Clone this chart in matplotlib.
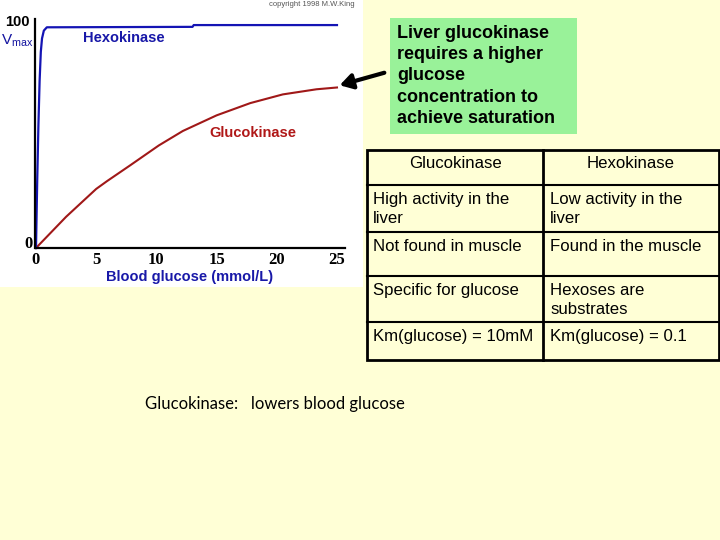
import matplotlib
matplotlib.use("Agg")
import matplotlib.pyplot as plt
from matplotlib.patches import Rectangle, FancyArrowPatch
from matplotlib.lines import Line2D

# ---- data ----
gluco_x = [0, 1.25, 2.5, 3.9, 5, 5.9, 7.8, 10.2, 12.2, 15, 17.8, 20.5, 23.3, 25]
gluco_y = [0, 7, 14, 21, 26.5, 30, 37, 46, 52.5, 59.5, 65, 68.9, 71.2, 72]
hexo_x = [0, 0.1, 0.2, 0.3, 0.4, 0.5, 0.65, 0.9, 13, 13.1, 25]
hexo_y = [0, 30, 55, 75, 88, 94, 97.5, 99, 99.2, 100, 100]
x_ticks = [0, 5, 10, 15, 20, 25]
table_header = ["Glucokinase", "Hexokinase"]
table_rows = [
    ["High activity in the\nliver", "Low activity in the\nliver"],
    ["Not found in muscle", "Found in the muscle"],
    ["Specific for glucose", "Hexoses are\nsubstrates"],
    ["Km(glucose) = 10mM", "Km(glucose) = 0.1"],
]
callout = "Liver glucokinase\nrequires a higher\nglucose\nconcentration to\nachieve saturation"
footer = "Glucokinase:   lowers blood glucose"

W, H = 720, 540
BG = "#FFFFD6"
fig = plt.figure(figsize=(7.2, 5.4), dpi=100, facecolor=BG)

def fx(x):
    return x / W

def fy(y):
    return 1 - y / H

# white chart image area
fig.patches.append(Rectangle((0, fy(287)), fx(363), 287 / H, transform=fig.transFigure,
                             facecolor="white", edgecolor="none", zorder=-5))

# axes: x 0..25.7 maps 36..345 px ; y 0..102.5 maps 248..19.5 px
left, right, bottom, top = 36, 345.4, 248, 19.5
ax = fig.add_axes([fx(left), fy(bottom), (right - left) / W, (bottom - top) / H])
ax.set_zorder(2)
ax.set_xlim(0, 25.7)
ax.set_ylim(0, 102.5)
ax.patch.set_alpha(0)
for s in ["top", "right"]:
    ax.spines[s].set_visible(False)
ax.spines["left"].set_linewidth(1.6)
ax.spines["bottom"].set_linewidth(1.6)
ax.spines["left"].set_position(("data", -0.08))

ax.plot(gluco_x, gluco_y, color="#A01818", lw=1.5, clip_on=False)
ax.plot(hexo_x, hexo_y, color="#1414B4", lw=1.6, clip_on=False)

ax.set_xticks(x_ticks)
ax.set_xticklabels([str(t) for t in x_ticks], fontsize=12, fontweight="bold",
                   family="Liberation Serif")
ax.tick_params(axis="x", length=0, pad=3)
ax.set_yticks([])

# y labels
fig.text(fx(30), fy(22), "100", fontsize=10.5, fontweight="bold", family="Liberation Sans",
         ha="right", va="center")
fig.text(fx(33), fy(244), "0", fontsize=12, fontweight="bold", family="Liberation Serif",
         ha="right", va="center")
fig.text(fx(1), fy(41), r"V$_{\mathregular{max}}$", fontsize=11, color="#1414A0",
         family="Liberation Sans", ha="left", va="center")

fig.text(fx(124), fy(38), "Hexokinase", fontsize=10.5, fontweight="bold",
         color="#1818A8", family="Liberation Sans", ha="center", va="center")
fig.text(fx(253), fy(133), "Glucokinase", fontsize=10.5, fontweight="bold",
         color="#B01818", family="Liberation Sans", ha="center", va="center")
fig.text(fx(190), fy(277), "Blood glucose (mmol/L)", fontsize=10.5, fontweight="bold",
         color="#1818A8", family="Liberation Sans", ha="center", va="center")
fig.text(fx(312), fy(5), "copyright 1998 M.W.King", fontsize=5.5, color="#555555",
         family="Liberation Sans", ha="center", va="center")

# green callout box
fig.patches.append(Rectangle((fx(390), fy(134)), fx(187), 116 / H, transform=fig.transFigure,
                             facecolor="#99F299", edgecolor="none", zorder=1))
fig.text(fx(397), fy(76), callout, fontsize=13, fontweight="bold", family="Liberation Sans",
         ha="left", va="center", linespacing=1.33, zorder=2)

# arrow
arr = FancyArrowPatch((fx(387), fy(72)), (fx(337), fy(86)), transform=fig.transFigure,
                      arrowstyle="-|>,head_length=5,head_width=3", color="black", lw=3,
                      mutation_scale=1.5, zorder=3)
fig.patches.append(arr)

# table
tl, tr, ttop = 367, 719, 150
tdiv = 543
row_lines = [150, 185, 232, 276, 322, 360]
lw = 2
fig.patches.append(Rectangle((fx(tl), fy(row_lines[-1])), fx(tr - tl),
                             (row_lines[-1] - row_lines[0]) / H, transform=fig.transFigure,
                             facecolor="none", edgecolor="black", lw=lw))
fig.lines.append(Line2D([fx(tdiv), fx(tdiv)], [fy(row_lines[0]), fy(row_lines[-1])],
                        transform=fig.transFigure, color="black", lw=lw))
for y in row_lines[1:-1]:
    fig.lines.append(Line2D([fx(tl), fx(tr)], [fy(y), fy(y)], transform=fig.transFigure,
                            color="black", lw=lw * 0.75))

tf = dict(fontsize=12.1, family="Liberation Sans", color="black")
fig.text(fx((tl + tdiv) / 2), fy(163), table_header[0], ha="center", va="center", **tf)
fig.text(fx((tdiv + tr) / 2), fy(163), table_header[1], ha="center", va="center", **tf)
for i, row in enumerate(table_rows):
    ytop = row_lines[i + 1] + 7
    fig.text(fx(373), fy(ytop), row[0], ha="left", va="top", linespacing=1.36, **tf)
    fig.text(fx(550), fy(ytop), row[1], ha="left", va="top", linespacing=1.36, **tf)

fig.text(fx(145), fy(404), footer, fontsize=12, family="Lato", ha="left", va="center")

fig.savefig("out.png", dpi=100, facecolor=BG)
